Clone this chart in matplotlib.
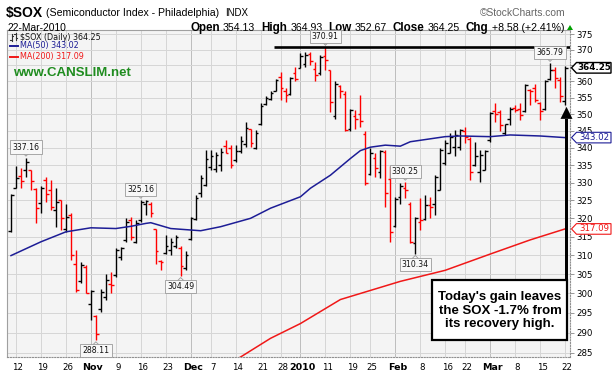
import datetime as dt
import numpy as np
import matplotlib
matplotlib.use("Agg")
import matplotlib.pyplot as plt
from matplotlib.collections import LineCollection
from matplotlib.patches import Polygon, Rectangle
from matplotlib.lines import Line2D
from matplotlib.transforms import IdentityTransform
from matplotlib.ticker import FixedLocator, NullLocator, NullFormatter, FixedFormatter

# ---------------- data ----------------
start_date = dt.date(2009, 10, 9)
end_date = dt.date(2010, 3, 22)
holidays = [dt.date(2009, 11, 26), dt.date(2009, 12, 25), dt.date(2010, 1, 1),
            dt.date(2010, 1, 18), dt.date(2010, 2, 15)]

opens = [316.6, 328.6, 332.0, 333.5, 333.5, 328.3, 324.3, 330.7, 328.0, 322.3,
         325.0, 317.2, 320.9, 307.6, 303.1, 307.0, 297.3, 294.2, 295.9, 299.0,
         302.5, 304.7, 309.6, 314.1, 319.5, 313.6, 319.5, 324.1, 324.1, 317.0,
         308.5, 310.6, 311.5, 312.5, 312.0, 306.5, 314.3, 319.8, 327.0, 329.3,
         334.5, 334.0, 335.0, 340.6, 340.0, 336.5, 339.0, 341.0, 345.5, 340.0,
         347.0, 353.0, 354.5, 357.2, 361.5, 357.0, 356.0, 362.5, 364.3, 365.5,
         368.5, 364.0, 362.5, 368.0, 363.5, 349.5, 358.5, 356.0, 345.5, 349.5,
         350.0, 344.0, 332.5, 337.0, 333.0, 338.8, 331.0, 318.0, 326.0, 328.4,
         324.0, 313.2, 319.0, 319.8, 323.7, 324.1, 327.9, 335.5, 338.4, 340.3,
         340.3, 345.0, 342.5, 334.9, 333.0, 333.6, 342.3, 350.9, 350.8, 344.5,
         348.5, 352.0, 351.5, 351.0, 357.5, 358.0, 353.5, 351.5, 360.7, 363.5,
         360.5, 354.13]
highs = [326.9, 334.7, 334.2, 337.16, 333.6, 328.6, 329.1, 331.6, 330.7, 328.4,
         325.1, 324.1, 321.4, 311.4, 308.1, 307.4, 300.8, 294.4, 301.2, 305.1,
         305.5, 311.8, 312.2, 320.0, 320.4, 319.5, 325.16, 325.0, 324.6, 317.2,
         308.7, 315.4, 314.5, 315.4, 312.4, 311.0, 320.4, 326.5, 332.1, 339.5,
         339.4, 338.9, 340.0, 342.3, 340.8, 340.8, 343.5, 347.7, 345.7, 345.2,
         353.3, 355.5, 357.0, 360.9, 363.0, 358.1, 361.3, 364.5, 368.8, 369.3,
         369.3, 366.0, 368.3, 370.91, 363.6, 360.0, 358.9, 357.2, 351.7, 351.2,
         355.8, 344.9, 340.0, 338.4, 339.4, 339.4, 334.8, 326.0, 329.8, 330.25,
         324.6, 320.4, 325.6, 326.5, 326.0, 332.1, 340.0, 342.3, 344.3, 345.2,
         345.7, 346.2, 343.3, 341.8, 339.4, 339.4, 350.8, 353.3, 351.2, 347.2,
         352.3, 352.8, 353.3, 359.3, 357.6, 359.3, 353.8, 360.4, 365.79, 364.5,
         361.5, 364.93]
lows = [316.3, 328.4, 328.4, 331.6, 328.0, 318.8, 321.4, 324.6, 322.3, 317.7,
        316.8, 316.3, 308.7, 300.4, 302.7, 300.0, 293.2, 288.11, 295.3, 298.2,
        300.0, 304.2, 308.7, 313.6, 314.1, 313.2, 319.0, 320.9, 320.4, 307.6,
        306.0, 310.4, 310.0, 311.8, 304.49, 306.0, 314.1, 319.5, 326.0, 328.9,
        333.5, 333.1, 333.3, 338.4, 334.2, 336.0, 338.4, 340.3, 340.3, 339.6,
        346.7, 352.8, 354.3, 357.0, 354.3, 353.8, 355.8, 360.0, 364.1, 364.6,
        365.1, 360.0, 362.0, 363.6, 350.8, 348.7, 354.8, 344.9, 344.9, 345.7,
        346.2, 329.3, 332.1, 331.6, 331.2, 323.2, 313.6, 317.7, 324.1, 325.6,
        313.2, 310.34, 316.8, 319.5, 320.0, 320.9, 327.9, 335.0, 338.4, 337.6,
        339.4, 341.3, 330.7, 334.6, 330.3, 333.6, 341.8, 347.7, 344.9, 343.8,
        346.7, 350.8, 348.2, 350.8, 352.8, 353.8, 348.2, 351.2, 360.4, 358.1,
        353.8, 352.67]
closes = [326.5, 331.2, 330.5, 336.0, 330.4, 322.9, 328.4, 326.8, 323.1, 324.5,
          320.0, 320.5, 310.0, 300.8, 307.4, 300.2, 300.5, 289.8, 300.4, 303.4,
          302.1, 311.4, 311.8, 319.0, 315.0, 318.6, 324.6, 324.8, 321.6, 311.0,
          308.2, 312.4, 313.5, 315.0, 307.1, 310.1, 320.0, 325.6, 331.2, 336.8,
          337.5, 337.9, 338.8, 338.6, 335.0, 339.2, 342.0, 346.0, 341.5, 344.5,
          352.5, 355.0, 356.5, 360.5, 357.9, 355.8, 361.1, 360.9, 368.0, 368.3,
          366.3, 362.0, 367.8, 366.7, 353.8, 359.1, 357.0, 345.2, 351.2, 348.5,
          348.0, 329.8, 338.5, 334.2, 339.0, 327.0, 316.3, 325.5, 328.9, 327.9,
          313.6, 320.0, 319.5, 323.7, 323.2, 331.6, 339.4, 341.3, 343.3, 343.8,
          345.2, 343.3, 333.1, 337.5, 338.0, 339.2, 350.5, 350.2, 346.7, 347.0,
          351.7, 351.2, 349.7, 358.9, 357.0, 354.3, 351.0, 360.2, 363.7, 361.2,
          355.67, 364.25]

# moving averages (bar index, value)
ma50_idx = [0, 6, 11, 16, 21, 24, 27, 28, 32, 36, 38, 42, 48, 52, 58, 60, 64,
            68, 70, 72, 75, 78, 80, 87, 90, 96, 100, 106, 111]
ma50_val = [309.9, 313.6, 316.3, 317.4, 317.2, 317.8, 318.6, 318.8, 317.2, 316.8,
            316.6, 317.7, 320.0, 322.8, 326.0, 328.4, 332.1, 336.9, 339.2, 340.2,
            340.8, 340.5, 341.8, 343.3, 343.5, 343.3, 343.8, 343.5, 343.02]
ma200_idx = [42, 46, 52, 58, 66, 78, 87, 96, 104, 111]
ma200_val = [281.2, 284.0, 288.6, 292.3, 298.4, 303.1, 306.0, 310.3, 314.1, 317.09]

tick_dates = ["2009-10-12", "2009-10-19", "2009-10-26", "2009-11-02", "2009-11-09",
              "2009-11-16", "2009-11-23", "2009-12-01", "2009-12-07", "2009-12-14",
              "2009-12-21", "2009-12-28", "2010-01-04", "2010-01-11", "2010-01-19",
              "2010-01-25", "2010-02-01", "2010-02-08", "2010-02-16", "2010-02-22",
              "2010-03-01", "2010-03-08", "2010-03-15", "2010-03-22"]
tick_labels = ["12", "19", "26", "Nov", "9", "16", "23", "Dec", "7", "14", "21", "28",
               "2010", "11", "19", "25", "Feb", "8", "16", "22", "Mar", "8", "15", "22"]
bold_labels = ["Nov", "Dec", "2010", "Feb", "Mar"]

peak_idx = [3, 26, 63, 79, 108]
trough_idx = [17, 34, 81]

ma50_last = 343.02
ma200_last = 317.09
note_text = "Today's gain leaves\nthe SOX -1.7% from\nits recovery high."

# ---------------- figure ----------------
W, H, DPI = 615, 375, 100
fig = plt.figure(figsize=(W / DPI, H / DPI), dpi=DPI)
fig.patch.set_facecolor("white")
L, R, T, B = 7, 570, 30, 357
ax = fig.add_axes([L / W, 1 - B / H, (R - L) / W, (B - T) / H])
ax.set_facecolor("#f4f4f4")
ax.set_yscale("log")
ax.set_ylim(284.0, 376.3)
ax.set_xlim(-0.8, 112.0)

dates = []
d = start_date
while d <= end_date:
    if d.weekday() < 5 and d not in holidays:
        dates.append(d)
    d += dt.timedelta(days=1)
n = len(dates)

# y axis on right
yt = list(range(285, 380, 5))
ax.yaxis.set_major_locator(FixedLocator(yt))
ax.yaxis.set_minor_locator(NullLocator())
ax.yaxis.set_minor_formatter(NullFormatter())
ax.yaxis.set_major_formatter(FixedFormatter([str(v) for v in yt]))
ax.yaxis.tick_right()
ax.tick_params(axis="y", which="major", direction="out", length=3, width=0.6,
               color="#888888", pad=1.5, labelsize=6.2)
ax.grid(True, axis="y", color="#d6d6d6", lw=0.7)
ax.set_axisbelow(True)

# x ticks
tpos = [dates.index(dt.date.fromisoformat(s)) for s in tick_dates]
ax.set_xticks([p + 0.4 for p in tpos])
ax.set_xticklabels(tick_labels, fontsize=6.2)
for lab in ax.get_xticklabels():
    if lab.get_text() in bold_labels:
        lab.set_fontweight("bold")
        lab.set_fontsize(6.8)
ax.tick_params(axis="x", length=0, pad=4.5)
for p, lab in zip(tpos, tick_labels):
    ax.axvline(p, color="#bdbdbd" if lab in bold_labels else "#d6d6d6", lw=0.7, zorder=0.5)

for s in ["left", "top"]:
    ax.spines[s].set_color("#a0a0a0")
    ax.spines[s].set_linewidth(0.8)
for s in ["bottom", "right"]:
    ax.spines[s].set_color("#909090")
    ax.spines[s].set_linewidth(0.8)
    ax.spines[s].set_linestyle((0, (1, 1.5)))

# OHLC bars
segs, cols = [], []
for i in range(n):
    up = closes[i] >= (closes[i - 1] if i > 0 else opens[i])
    c = "#000000" if up else "#ff0000"
    segs += [[(i, lows[i]), (i, highs[i])],
             [(i - 0.55, opens[i]), (i, opens[i])],
             [(i, closes[i]), (i + 0.55, closes[i])]]
    cols += [c, c, c]
ax.add_collection(LineCollection(segs, colors=cols, linewidths=1.0, zorder=3))

# moving averages
ax.plot(ma50_idx, ma50_val, color="#1d1d96", lw=1.1, zorder=4)
ax.plot(ma200_idx, ma200_val, color="#f01818", lw=1.1, zorder=4)

# resistance line at the high
top_i = int(np.argmax(highs))
ax.plot([52.6, 112.0], [highs[top_i], highs[top_i]], color="black", lw=1.9,
        zorder=5, solid_capstyle="butt")

fig.canvas.draw()
ID = IdentityTransform()


def px(xd, yd):
    return ax.transData.transform((xd, yd))


# callout boxes
def callout(i, val, above):
    x0, y0 = px(i, val)
    bh, gap = 11.0, 5.0
    cy = y0 + gap + bh / 2 if above else y0 - gap - bh / 2
    fig.text(x0, cy, "%.2f" % val, transform=ID, ha="center", va="center",
             fontsize=5.6, family="DejaVu Sans", color="#111111", zorder=7,
             bbox=dict(boxstyle="square,pad=0.28", fc="#f8f8f8", ec="#9a9a9a", lw=0.6))
    if above:
        by = cy - bh / 2 - 0.5
        tip = y0 + 1.5
    else:
        by = cy + bh / 2 + 0.5
        tip = y0 - 1.5
    fig.add_artist(Line2D([x0 - 3, x0, x0 + 3], [by, tip, by], transform=ID,
                          color="#9a9a9a", lw=0.6, zorder=7))


for i in peak_idx:
    callout(i, highs[i], True)
for i in trough_idx:
    callout(i, lows[i], False)

# hide the axis label fully covered by the last-price tag (as in the reference)
for lab in ax.get_yticklabels():
    if lab.get_text() == "365":
        lab.set_visible(False)


# right-side value tags
def tag(val, ec, tc, bold, lw):
    _, yy = px(0, val)
    x0, x1, hh = 571.5, 611, 5.3
    poly = [(x0, yy), (x0 + 5, yy + hh), (x1, yy + hh), (x1, yy - hh), (x0 + 5, yy - hh)]
    fig.add_artist(Polygon(poly, closed=True, fc="white", ec=ec, lw=lw, transform=ID, zorder=8))
    fig.text((x0 + 5 + x1) / 2 + 0.5, yy, "%.2f" % val, transform=ID, ha="center",
             va="center", fontsize=6.3 if bold else 6.2, family="DejaVu Sans",
             fontweight="bold" if bold else "normal", color=tc, zorder=9)


tag(closes[-1], "#000000", "#000000", True, 1.0)
tag(ma50_last, "#1d1d96", "#1d1d96", False, 0.8)
tag(ma200_last, "#f01818", "#f01818", False, 0.8)

# arrow from note box to last bar low
_, low_y = px(n - 1, lows[-1])
ax_x = 566.5
tip_y = low_y - 1.5
base_y = tip_y - 12
bottom_y = H - 340
fig.add_artist(Rectangle((ax_x - 1.5, bottom_y), 3.0, base_y - bottom_y, fc="black",
                         ec="none", transform=ID, zorder=10))
fig.add_artist(Polygon([(ax_x - 6, base_y), (ax_x + 6, base_y), (ax_x, tip_y)], closed=True,
                       fc="black", ec="none", transform=ID, zorder=10))

# note box
fig.add_artist(Rectangle((432, H - 340), 135, 60, fc="white", ec="black", lw=1.6,
                         transform=ID, zorder=11))
fig.text(500, H - 310.5, note_text, transform=ID, ha="center", va="center",
         fontsize=9.5, family="Liberation Sans", fontweight="bold",
         linespacing=1.12, zorder=12)


# ---------------- header ----------------
def ftxt(x, ytop, s, **kw):
    return fig.text(x / W, 1 - ytop / H, s, **kw)


ftxt(6, 16.5, "$SOX", fontsize=10, family="Liberation Sans", fontweight="bold")
ftxt(46, 16.5, "(Semiconductor Index - Philadelphia)", fontsize=7.6, family="Liberation Sans")
ftxt(225, 16.5, "INDX", fontsize=7.0, family="Liberation Sans")
ftxt(565, 16.5, "\u00a9StockCharts.com", fontsize=7.4, family="Liberation Sans",
     color="#666666", ha="right")
ftxt(7, 31, "22-Mar-2010", fontsize=7.4, family="Liberation Sans")

renderer = fig.canvas.get_renderer()
parts = [("Open", True), ("354.13", False), ("High", True), ("364.93", False),
         ("Low", True), ("352.67", False), ("Close", True), ("364.25", False),
         ("Chg", True), ("+8.58 (+2.41%)", False)]
objs, widths = [], []
for s, b in parts:
    t = ftxt(0, 31, s, fontsize=8.4 if b else 7.6, family="Liberation Sans",
             fontweight="bold" if b else "normal")
    objs.append(t)
    widths.append(t.get_window_extent(renderer=renderer).width)
gaps = [3 if b else 6 for _, b in parts]
total = sum(widths) + sum(gaps[:-1])
x = 564 - total
for t, w, g in zip(objs, widths, gaps):
    t.set_x(x / W)
    x += w + g
fig.add_artist(Polygon([(567, H - 30), (573, H - 30), (570, H - 25)], closed=True,
                       fc="#00a000", ec="none", transform=ID))

# legend inside plot
for bx, y1, y2, yo, yc in [(11.5, 41, 34, 40, 36), (15.5, 40, 33, 34, 38)]:
    fig.add_artist(Line2D([bx, bx], [H - y1, H - y2], transform=ID, color="#333333", lw=0.8))
    fig.add_artist(Line2D([bx - 1.5, bx], [H - yo, H - yo], transform=ID, color="#333333", lw=0.8))
    fig.add_artist(Line2D([bx, bx + 1.5], [H - yc, H - yc], transform=ID, color="#333333", lw=0.8))
ftxt(20, 37.5, "$SOX (Daily) %.2f" % closes[-1], fontsize=5.8, family="DejaVu Sans",
     va="center", color="#111111")
fig.add_artist(Line2D([10, 18], [H - 45.5, H - 45.5], transform=ID, color="#1d1d96", lw=1.4))
ftxt(20, 45.5, "MA(50) %.2f" % ma50_last, fontsize=5.8, family="DejaVu Sans",
     va="center", color="#1d1d96")
fig.add_artist(Line2D([10, 18], [H - 57, H - 57], transform=ID, color="#f01818", lw=1.4))
ftxt(20, 57, "MA(200) %.2f" % ma200_last, fontsize=5.8, family="DejaVu Sans",
     va="center", color="#f01818")
ftxt(13, 73, "www.CANSLIM.net", fontsize=9.5, family="Liberation Sans", fontweight="bold",
     va="center", color="#1f8c1f")

fig.savefig("out.png", dpi=DPI, facecolor="white")
